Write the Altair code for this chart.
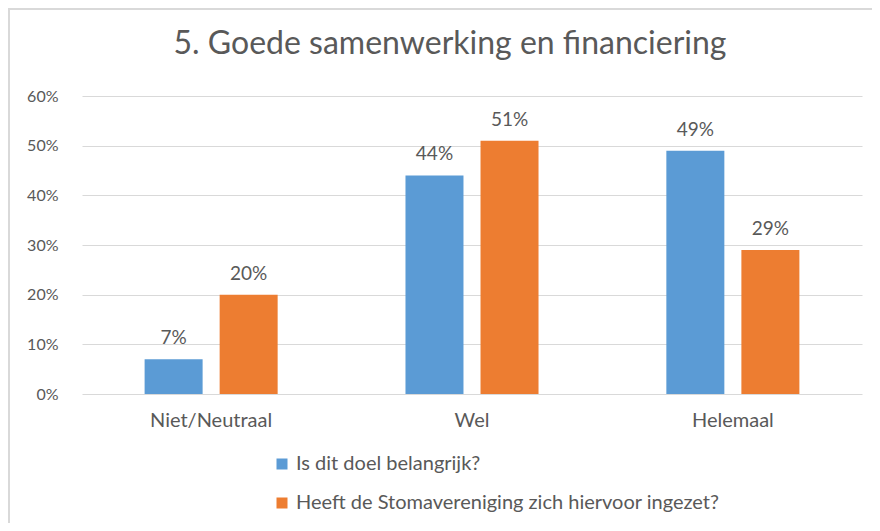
import altair as alt
import pandas as pd

categories = ["Niet/Neutraal", "Wel", "Helemaal"]
series = ["Is dit doel belangrijk?", "Heeft de Stomavereniging zich hiervoor ingezet?"]
belangrijk = [0.07, 0.44, 0.49]
ingezet = [0.20, 0.51, 0.29]

rows = []
for c, v in zip(categories, belangrijk):
    rows.append({"cat": c, "serie": series[0], "val": v})
for c, v in zip(categories, ingezet):
    rows.append({"cat": c, "serie": series[1], "val": v})
df = pd.DataFrame(rows)

FONT = "Lato"
GREY = "#595959"
W, H = 780, 298

x = alt.X("cat:N", sort=categories, title=None,
          scale=alt.Scale(paddingInner=0.49, paddingOuter=0.24),
          axis=alt.Axis(labelAngle=0, ticks=False, domain=False, labelPadding=16,
                        labelFontSize=20, labelColor=GREY, labelFont=FONT))
xo = alt.XOffset("serie:N", sort=series, scale=alt.Scale(paddingInner=0.227, paddingOuter=0))
y = alt.Y("val:Q", title=None,
          scale=alt.Scale(domain=[0, 0.6]),
          axis=alt.Axis(format=".0%", values=[0, 0.1, 0.2, 0.3, 0.4, 0.5, 0.6],
                        ticks=False, domain=False, labelPadding=24,
                        labelFontSize=16, labelColor=GREY, labelFont=FONT,
                        gridColor="#D9D9D9", gridWidth=1))
color = alt.Color("serie:N", sort=series,
                  scale=alt.Scale(domain=series, range=["#5B9BD5", "#ED7D31"]),
                  legend=alt.Legend(title=None, orient="none", legendX=190, legendY=358,
                                    direction="vertical", symbolType="square", symbolSize=121,
                                    symbolStrokeWidth=0, rowPadding=19, labelFontSize=20,
                                    labelColor=GREY, labelFont=FONT, labelOffset=4,
                                    labelLimit=0))

base = alt.Chart(df).encode(x=x, xOffset=xo, y=y)
bars = base.mark_bar().encode(color=color)
labels = base.mark_text(dy=-15, baseline="alphabetic", fontSize=19, font=FONT, color=GREY).encode(
    text=alt.Text("val:Q", format=".0%"))

frame = alt.Chart(alt.Data(values=[{}]))
left_line = frame.mark_rule(color="#D9D9D9", strokeWidth=2).encode(
    x=alt.value(-73), y=alt.value(-88), y2=alt.value(H + 129))
top_line = frame.mark_rule(color="#D9D9D9", strokeWidth=2).encode(
    x=alt.value(-74), x2=alt.value(W + 10), y=alt.value(-87))

chart = alt.layer(bars, labels, left_line, top_line).properties(
    width=W, height=H,
    autosize=alt.AutoSizeParams(type="none"),
    padding={"left": 74, "top": 88, "right": 10, "bottom": 129},
    title=alt.TitleParams("5. Goede samenwerking en financiering", fontSize=32,
                          font=FONT, fontWeight="normal", color=GREY, offset=-54, dx=-22),
).configure_view(stroke=None)

chart.save("out.html", embed_options={"renderer": "svg", "actions": False})
